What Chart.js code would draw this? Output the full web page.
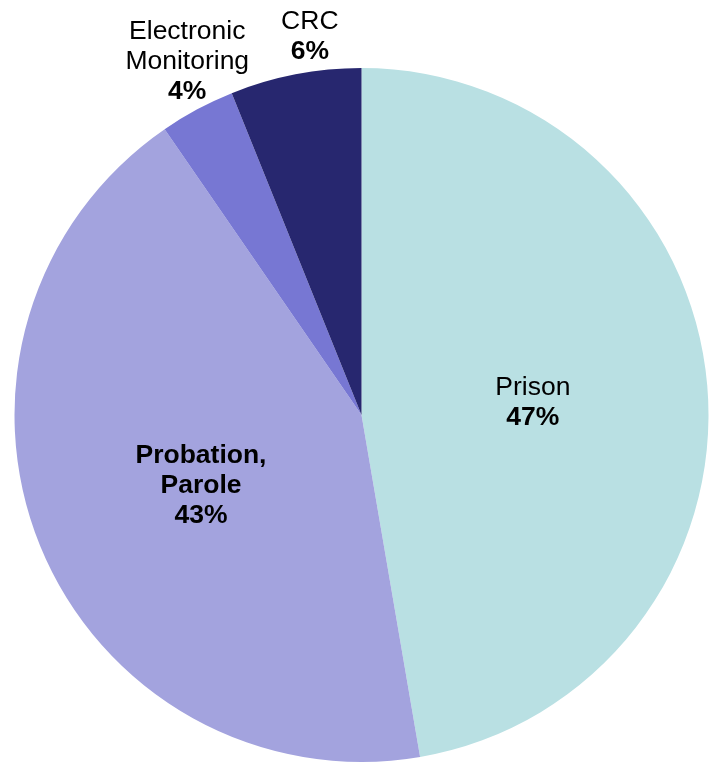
<!DOCTYPE html>
<html>
<head>
<meta charset="utf-8">
<script src="https://cdn.jsdelivr.net/npm/chart.js@4"></script>
<style>
	html, body { margin:0; padding:0; background:#fff; }
	#wrap { width:712px; height:765px; }
</style>
</head>
<body>
<div id="wrap"><canvas id="pie"></canvas></div>
<script>
// slices, clockwise from 12 o'clock
const categories = ["Prison", "Probation, Parole", "Electronic Monitoring", "CRC"];
const shares = [47.3, 43.1, 3.5, 6.1];
const labelLines = [["Prison"], ["Probation,", "Parole"], ["Electronic", "Monitoring"], ["CRC"]];
const sliceColors = ["#b9e0e3", "#a3a3de", "#7777d3", "#27276f"];

// label placement: fraction of radius, angle nudge (deg), bold name?
const labelPos = [
	{r:0.495, nudge:0.9, bold:false},
	{r:0.505, nudge:-1.5, bold:true},
	{r:1.135, nudge:2.0, bold:false},
	{r:1.10, nudge:3.2, bold:false}
];

const sliceLabels = {
	id:"sliceLabels",
	afterDatasetsDraw(chart){
		let ctx = chart.ctx,
			meta = chart.getDatasetMeta(0),
			lineH = 30;
		ctx.save();
		ctx.fillStyle = "#000";
		ctx.textAlign = "center";
		ctx.textBaseline = "middle";
		meta.data.forEach((arc, i) => {
			let p = labelPos[i],
				mid = (arc.startAngle + arc.endAngle) / 2 + p.nudge * Math.PI / 180,
				dist = arc.outerRadius * p.r,
				x = arc.x + Math.cos(mid) * dist,
				y = arc.y + Math.sin(mid) * dist,
				lines = labelLines[i].concat([Math.round(shares[i]) + "%"]),
				top = y - (lines.length - 1) * lineH / 2;
			lines.forEach((txt, j) => {
				let isPct = j == lines.length - 1;
				ctx.font = ((isPct || p.bold) ? "bold " : "") + "26.5px 'Liberation Sans', Arial, sans-serif";
				ctx.fillText(txt, x, top + j * lineH);
			});
		});
		ctx.restore();
	}
};

new Chart(document.getElementById("pie"), {
	type:"pie",
	data:{
		labels:categories,
		datasets:[{
			data:shares,
			backgroundColor:sliceColors,
			borderWidth:0
		}]
	},
	options:{
		responsive:true,
		maintainAspectRatio:false,
		animation:false,
		layout:{ padding:{left:14, right:3, top:68, bottom:3} },
		plugins:{
			legend:{ display:false },
			tooltip:{ enabled:false }
		}
	},
	plugins:[sliceLabels]
});
</script>
</body>
</html>
